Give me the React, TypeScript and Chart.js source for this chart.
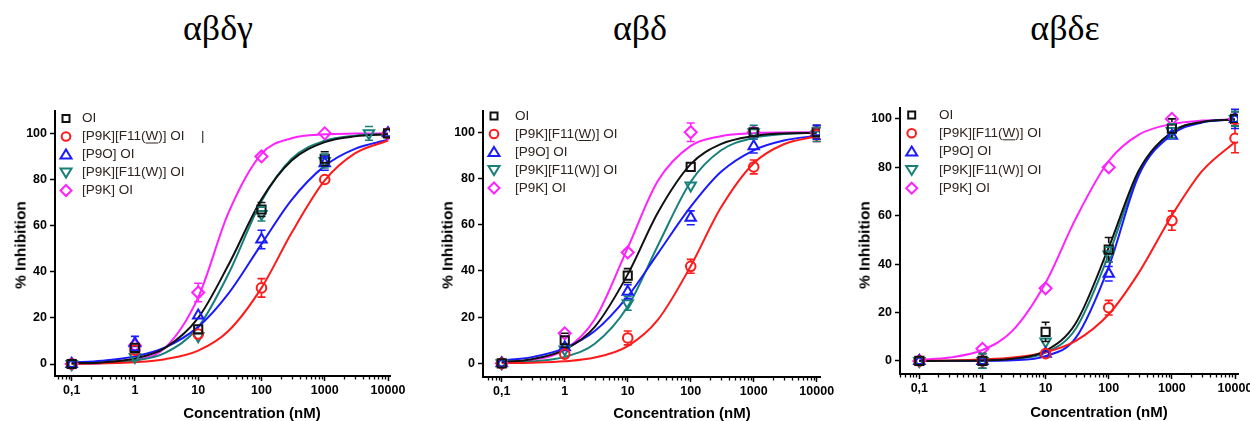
import React, { useEffect, useRef } from "react";
import { Chart, registerables } from "chart.js";

Chart.register(...registerables);
Chart.defaults.font.family = "'Liberation Sans', Arial, sans-serif";

// ---------- shared labels / ticks ----------
const panelTitles = ["αβδγ", "αβδ", "αβδε"];
const seriesLabels = ["OI", "[P9K][F11(W)] OI", "[P9O] OI", "[P9K][F11(W)] OI", "[P9K] OI"];
const underlinedLabelIndex = 1;
const seriesColors = ["#111111", "#ff1a1a", "#1a1aff", "#17807a", "#ff22ff"];
const seriesMarkers = ["square", "circle", "triangle", "triangleDown", "diamond"];
const xTickValues = [0.1, 1, 10, 100, 1000, 10000];
const xTickLabels = ["0,1", "1", "10", "100", "1000", "10000"];
const yTickValues = [0, 20, 40, 60, 80, 100];
const yTickLabels = ["0", "20", "40", "60", "80", "100"];
const xAxisTitle = "Concentration (nM)";
const yAxisTitle = "% Inhibition";

// ---------- concentrations ----------
const doseX = [0.1, 1, 10, 100, 1000, 10000];
const doseX_abdg_teal = [0.1, 1, 10, 100, 1000, 5000];
const fitX = [0.1, 0.3, 1, 3, 10, 30, 100, 300, 1000, 3000, 10000];

// ---------- αβδγ ----------
const abdg_OI = [0, 7, 15, 67, 89, 100];
const abdg_OI_err = [1, 2, 2, 3, 3, 2];
const abdg_OI_fit = [0.3, 0.7, 2.4, 7.0, 20.0, 42.9, 71.4, 88.2, 96.2, 98.7, 99.6];
const abdg_P9KF11W = [0, 6, 13, 33, 80, 100];
const abdg_P9KF11W_err = [1, 2, 2, 4, 2, 2];
const abdg_P9KF11W_fit = [0.1, 0.3, 0.8, 2.1, 5.8, 14.3, 33.0, 56.9, 79.6, 91.3, 96.9];
const abdg_P9O = [0, 9, 21, 54, 87, 100];
const abdg_P9O_err = [1, 3, 2, 4, 3, 2];
const abdg_P9O_fit = [0.6, 1.4, 3.3, 7.2, 16.1, 30.5, 52.0, 71.2, 85.9, 93.3, 97.2];
const abdg_P9KF11Wb = [0, 3, 12, 65, 88, 100];
const abdg_P9KF11Wb_err = [1, 2, 2, 3, 3, 3];
const abdg_P9KF11Wb_fit = [0.1, 0.4, 1.5, 4.8, 16.0, 39.0, 70.6, 89.0, 96.8, 99.0, 99.7];
const abdg_P9K = [0, 8, 31, 90, 100, 100];
const abdg_P9K_err = [1, 2, 4, 2, 1, 1];
const abdg_P9K_fit = [0.1, 0.3, 1.6, 7.0, 28.9, 65.5, 91.1, 97.9, 99.6, 99.9, 100];

// ---------- αβδ ----------
const abd_OI = [0, 10, 38, 85, 100, 100];
const abd_OI_err = [1, 3, 3, 2, 2, 3];
const abd_OI_fit = [0.6, 1.8, 5.9, 15.8, 38.5, 65.2, 86.2, 94.9, 98.4, 99.5, 99.8];
const abd_P9KF11W = [0, 4, 11, 42, 85, 99];
const abd_P9KF11W_err = [1, 2, 3, 3, 3, 3];
const abd_P9KF11W_fit = [0.1, 0.3, 0.9, 2.5, 7.5, 18.8, 42.1, 67.3, 86.6, 94.8, 98.3];
const abd_P9O = [0, 7, 31, 63, 94, 100];
const abd_P9O_err = [1, 2, 3, 3, 3, 3];
const abd_P9O_fit = [1.2, 2.7, 6.6, 14.0, 29.0, 47.5, 67.8, 82.8, 92.2, 96.4, 98.5];
const abd_P9KF11Wb = [0, 6, 26, 77, 100, 99];
const abd_P9KF11Wb_err = [1, 2, 3, 2, 3, 3];
const abd_P9KF11Wb_fit = [0.3, 0.8, 2.8, 8.5, 24.6, 50.9, 78.6, 92.1, 97.6, 99.2, 99.8];
const abd_P9K = [0, 13, 48, 100, 100, 100];
const abd_P9K_err = [1, 2, 2, 4, 2, 2];
const abd_P9K_fit = [0.4, 1.5, 5.9, 19.1, 50.0, 78.9, 94.1, 98.3, 99.6, 99.9, 100];

// ---------- αβδε ----------
const abde_OI = [0, 0, 12, 46, 96, 100];
const abde_OI_err = [1, 3, 4, 5, 4, 3];
const abde_OI_fit = [0, 0.05, 0.2, 0.9, 4.2, 15.6, 46.9, 78.7, 94.6, 98.7, 99.7];
const abde_P9KF11W = [0, 0, 3, 22, 58, 92];
const abde_P9KF11W_err = [1, 1, 1, 3, 4, 6];
const abde_P9KF11W_fit = [0.1, 0.2, 0.6, 1.4, 3.6, 8.3, 19.3, 36.5, 60.1, 78.4, 90.5];
const abde_P9O = [0, 0, 3, 36, 93, 100];
const abde_P9O_err = [1, 2, 1, 3, 2, 4];
const abde_P9O_fit = [0, 0, 0.1, 0.3, 2.0, 9.5, 38.9, 76.8, 93.5, 98.5, 99.8];
const abde_P9KF11Wb = [0, 0, 8, 44, 95, 100];
const abde_P9KF11Wb_err = [1, 3, 2, 3, 3, 3];
const abde_P9KF11Wb_fit = [0, 0, 0.2, 0.7, 3.4, 13.3, 43.9, 77.5, 94.6, 98.7, 99.7];
const abde_P9K = [0, 5, 30, 80, 100, 100];
const abde_P9K_err = [1, 1, 1, 1, 2, 1];
const abde_P9K_fit = [0.5, 1.4, 4.5, 12.5, 32.3, 58.8, 82.6, 93.5, 97.9, 99.3, 99.8];

type Series = { x: number[]; y: number[]; err: number[]; fit: number[] };
type PanelCfg = {
  title: string;
  titleX: number;
  canvasLeft: number;
  canvasWidth: number;
  yAxisWidth: number;
  padTop: number;
  padRight: number;
  xAxisHeight: number;
  xMin: number;
  xMax: number;
  yMin: number;
  yMax: number;
  series: Series[];
  legend: { markerDX: number; textDX: number; firstDY: number; gap: number; extra?: { text: string; dx: number; row: number } };
  yTitleX: number;
  yTitleY: number;
  xTitleX: number;
  xTitleY: number;
};

const CANVAS_TOP = 90;
const CANVAS_H = 331;

const panels: PanelCfg[] = [
  {
    title: panelTitles[0], titleX: 218,
    canvasLeft: 0, canvasWidth: 420, yAxisWidth: 55, padTop: 21, padRight: 30, xAxisHeight: 45,
    xMin: 0.0545, xMax: 10755, yMin: -5.2, yMax: 109.7,
    series: [
      { x: doseX, y: abdg_OI, err: abdg_OI_err, fit: abdg_OI_fit },
      { x: doseX, y: abdg_P9KF11W, err: abdg_P9KF11W_err, fit: abdg_P9KF11W_fit },
      { x: doseX, y: abdg_P9O, err: abdg_P9O_err, fit: abdg_P9O_fit },
      { x: doseX_abdg_teal, y: abdg_P9KF11Wb, err: abdg_P9KF11Wb_err, fit: abdg_P9KF11Wb_fit },
      { x: doseX, y: abdg_P9K, err: abdg_P9K_err, fit: abdg_P9K_fit },
    ],
    legend: { markerDX: 11, textDX: 27, firstDY: 7.5, gap: 18, extra: { text: "|", dx: 146, row: 1 } },
    yTitleX: 20, yTitleY: 245, xTitleX: 252, xTitleY: 411.5,
  },
  {
    title: panelTitles[1], titleX: 640,
    canvasLeft: 425, canvasWidth: 415, yAxisWidth: 58, padTop: 21, padRight: 20, xAxisHeight: 44,
    xMin: 0.0504, xMax: 11280, yMin: -5.9, yMax: 109.2,
    series: [
      { x: doseX, y: abd_OI, err: abd_OI_err, fit: abd_OI_fit },
      { x: doseX, y: abd_P9KF11W, err: abd_P9KF11W_err, fit: abd_P9KF11W_fit },
      { x: doseX, y: abd_P9O, err: abd_P9O_err, fit: abd_P9O_fit },
      { x: doseX, y: abd_P9KF11Wb, err: abd_P9KF11Wb_err, fit: abd_P9KF11Wb_fit },
      { x: doseX, y: abd_P9K, err: abd_P9K_err, fit: abd_P9K_fit },
    ],
    legend: { markerDX: 11, textDX: 32, firstDY: 5, gap: 18 },
    yTitleX: 447, yTitleY: 245, xTitleX: 682, xTitleY: 411.5,
  },
  {
    title: panelTitles[2], titleX: 1065,
    canvasLeft: 845, canvasWidth: 420, yAxisWidth: 55, padTop: 18, padRight: 27, xAxisHeight: 47,
    xMin: 0.0494, xMax: 11155, yMin: -5.4, yMax: 104.5,
    series: [
      { x: doseX, y: abde_OI, err: abde_OI_err, fit: abde_OI_fit },
      { x: doseX, y: abde_P9KF11W, err: abde_P9KF11W_err, fit: abde_P9KF11W_fit },
      { x: doseX, y: abde_P9O, err: abde_P9O_err, fit: abde_P9O_fit },
      { x: doseX, y: abde_P9KF11Wb, err: abde_P9KF11Wb_err, fit: abde_P9KF11Wb_fit },
      { x: doseX, y: abde_P9K, err: abde_P9K_err, fit: abde_P9K_fit },
    ],
    legend: { markerDX: 11.7, textDX: 39, firstDY: 7, gap: 18.3 },
    yTitleX: 864, yTitleY: 245, xTitleX: 1099, xTitleY: 410.5,
  },
];

const pointStyleOf: Record<string, { style: any; rotation: number; radius: number }> = {
  square: { style: "rect", rotation: 0, radius: 5.8 },
  circle: { style: "circle", rotation: 0, radius: 4.8 },
  triangle: { style: "triangle", rotation: 0, radius: 6 },
  triangleDown: { style: "triangle", rotation: 180, radius: 6 },
  diamond: { style: "rectRot", rotation: 0, radius: 6 },
};

function drawLegendMarker(ctx: CanvasRenderingContext2D, kind: string, x: number, y: number, color: string) {
  ctx.save();
  ctx.strokeStyle = color;
  ctx.lineWidth = 2;
  ctx.beginPath();
  if (kind === "square") {
    ctx.rect(x - 3.5, y - 3.5, 7, 7);
  } else if (kind === "circle") {
    ctx.arc(x, y, 4.3, 0, Math.PI * 2);
  } else if (kind === "triangle") {
    ctx.moveTo(x, y - 5);
    ctx.lineTo(x + 5.5, y + 4);
    ctx.lineTo(x - 5.5, y + 4);
    ctx.closePath();
  } else if (kind === "triangleDown") {
    ctx.moveTo(x - 5.5, y - 4);
    ctx.lineTo(x + 5.5, y - 4);
    ctx.lineTo(x, y + 5);
    ctx.closePath();
  } else {
    ctx.moveTo(x, y - 5.5);
    ctx.lineTo(x + 5.5, y);
    ctx.lineTo(x, y + 5.5);
    ctx.lineTo(x - 5.5, y);
    ctx.closePath();
  }
  ctx.stroke();
  ctx.restore();
}

function makeOverlayPlugin(cfg: PanelCfg) {
  return {
    id: "overlay",
    afterDatasetsDraw(chart: any) {
      const ctx: CanvasRenderingContext2D = chart.ctx;
      const xs = chart.scales.x;
      const ys = chart.scales.y;
      chart.data.datasets.forEach((ds: any) => {
        if (!ds.errors) return;
        ctx.save();
        ctx.strokeStyle = ds.borderColor;
        ctx.lineWidth = 1.6;
        ds.data.forEach((p: any, j: number) => {
          const e = ds.errors[j];
          if (!e) return;
          const px = xs.getPixelForValue(p.x);
          const py = ys.getPixelForValue(p.y);
          const top = ys.getPixelForValue(p.y + e);
          const bot = ys.getPixelForValue(p.y - e);
          const r = ds.pointRadius + 0.5;
          ctx.beginPath();
          if (py - top > r) {
            ctx.moveTo(px, py - r);
            ctx.lineTo(px, top);
            ctx.moveTo(px - 4, top);
            ctx.lineTo(px + 4, top);
          }
          if (bot - py > r) {
            ctx.moveTo(px, py + r);
            ctx.lineTo(px, bot);
            ctx.moveTo(px - 4, bot);
            ctx.lineTo(px + 4, bot);
          }
          ctx.stroke();
        });
        ctx.restore();
      });
    },
    afterDraw(chart: any) {
      const ctx: CanvasRenderingContext2D = chart.ctx;
      const xs = chart.scales.x;
      const area = chart.chartArea;
      // minor log ticks
      ctx.save();
      ctx.strokeStyle = "#000";
      ctx.lineWidth = 1.3;
      ctx.beginPath();
      for (let e = -2; e <= 4; e++) {
        for (let m = 2; m <= 9; m++) {
          const v = m * Math.pow(10, e);
          if (v <= xs.min || v >= xs.max) continue;
          const px = Math.round(xs.getPixelForValue(v)) + 0.5;
          ctx.moveTo(px, area.bottom);
          ctx.lineTo(px, area.bottom + 3.5);
        }
      }
      ctx.stroke();
      ctx.restore();

      // legend
      const lg = cfg.legend;
      ctx.save();
      ctx.font = "13.5px 'Liberation Sans', Arial, sans-serif";
      ctx.textBaseline = "middle";
      ctx.textAlign = "left";
      seriesLabels.forEach((label, i) => {
        const y = area.top + lg.firstDY + i * lg.gap;
        drawLegendMarker(ctx, seriesMarkers[i], area.left + lg.markerDX, y, seriesColors[i]);
        ctx.fillStyle = "#2e2420";
        const tx = area.left + lg.textDX;
        ctx.fillText(label, tx, y);
        if (i === underlinedLabelIndex) {
          const pre = label.slice(0, label.indexOf("W"));
          const w0 = ctx.measureText(pre).width;
          const w1 = ctx.measureText("W").width;
          ctx.strokeStyle = "#2e2420";
          ctx.lineWidth = 1;
          ctx.beginPath();
          ctx.moveTo(tx + w0, y + 6.5);
          ctx.lineTo(tx + w0 + w1, y + 6.5);
          ctx.stroke();
        }
      });
      if (lg.extra) {
        ctx.fillStyle = "#2e2420";
        ctx.fillText(lg.extra.text, area.left + lg.extra.dx, area.top + lg.firstDY + lg.extra.row * lg.gap);
      }
      ctx.restore();
    },
  };
}

function Panel({ cfg }: { cfg: PanelCfg }) {
  const ref = useRef<HTMLCanvasElement>(null);
  useEffect(() => {
    const canvas = ref.current;
    if (!canvas) return;
    const pointSets = cfg.series.map((s, i) => {
      const ps = pointStyleOf[seriesMarkers[i]];
      return {
        type: "scatter",
        label: seriesLabels[i],
        data: s.x.map((x, j) => ({ x, y: s.y[j] })),
        errors: s.err,
        showLine: false,
        pointStyle: ps.style,
        rotation: ps.rotation,
        pointRadius: ps.radius,
        borderColor: seriesColors[i],
        backgroundColor: "rgba(0,0,0,0)",
        pointBorderWidth: 2,
        borderWidth: 2,
      } as any;
    });
    const fitSets = cfg.series.map((s, i) => ({
      type: "scatter",
      label: seriesLabels[i] + " fit",
      data: fitX.map((x, j) => ({ x, y: s.fit[j] })),
      showLine: true,
      pointRadius: 0,
      borderColor: seriesColors[i],
      backgroundColor: "rgba(0,0,0,0)",
      borderWidth: 2,
      cubicInterpolationMode: "monotone",
      fill: false,
    } as any));
    const tickFont = { family: "'Liberation Sans', Arial, sans-serif", size: 12.5, weight: "bold" as const };
    const chart = new Chart(canvas, {
      type: "scatter",
      data: { datasets: [...pointSets, ...fitSets] },
      options: {
        responsive: false,
        animation: false,
        events: [],
        devicePixelRatio: 1,
        layout: { padding: { left: 0, top: cfg.padTop, right: cfg.padRight, bottom: 0 } },
        plugins: { legend: { display: false }, tooltip: { enabled: false }, title: { display: false } },
        scales: {
          x: {
            type: "logarithmic",
            min: cfg.xMin,
            max: cfg.xMax,
            afterBuildTicks: (s: any) => {
              s.ticks = xTickValues.map((v) => ({ value: v }));
            },
            afterFit: (s: any) => {
              s.height = cfg.xAxisHeight;
            },
            ticks: {
              autoSkip: false,
              maxRotation: 0,
              minRotation: 0,
              padding: 2,
              color: "#000",
              font: tickFont,
              callback: (_v: any, i: number) => xTickLabels[i],
            },
            grid: { drawOnChartArea: false, drawTicks: true, tickLength: 5, tickColor: "#000", tickWidth: 1.5 },
            border: { display: true, color: "#000", width: 2 },
          },
          y: {
            type: "linear",
            min: cfg.yMin,
            max: cfg.yMax,
            afterBuildTicks: (s: any) => {
              s.ticks = yTickValues.map((v) => ({ value: v }));
            },
            afterFit: (s: any) => {
              s.width = cfg.yAxisWidth;
            },
            ticks: {
              padding: 3,
              color: "#000",
              font: tickFont,
              callback: (_v: any, i: number) => yTickLabels[i],
            },
            grid: { drawOnChartArea: false, drawTicks: true, tickLength: 5, tickColor: "#000", tickWidth: 1.5 },
            border: { display: true, color: "#000", width: 2 },
          },
        },
      } as any,
      plugins: [makeOverlayPlugin(cfg)],
    });
    return () => chart.destroy();
  }, [cfg]);
  return (
    <canvas
      ref={ref}
      width={cfg.canvasWidth}
      height={CANVAS_H}
      style={{ position: "absolute", left: cfg.canvasLeft, top: CANVAS_TOP, width: cfg.canvasWidth, height: CANVAS_H, display: "block" }}
    />
  );
}

const titleStyle: React.CSSProperties = {
  position: "absolute",
  top: 10,
  transform: "translateX(-50%)",
  fontFamily: "'Liberation Serif', 'Times New Roman', serif",
  fontSize: 36,
  lineHeight: "36px",
  color: "#000",
  whiteSpace: "nowrap",
};

const axisTitleStyle: React.CSSProperties = {
  position: "absolute",
  fontFamily: "'Liberation Sans', Arial, sans-serif",
  fontWeight: "bold",
  fontSize: 15,
  lineHeight: "17px",
  color: "#000",
  whiteSpace: "nowrap",
};

export default function App() {
  return (
    <div style={{ position: "absolute", left: 0, top: 0, width: 1250, height: 421, overflow: "hidden", background: "#fff" }}>
      {panels.map((p, i) => (
        <React.Fragment key={i}>
          <div style={{ ...titleStyle, left: p.titleX }}>{p.title}</div>
          <Panel cfg={p} />
          <div style={{ ...axisTitleStyle, fontSize: 15.5, left: p.yTitleX, top: p.yTitleY, transform: "translate(-50%,-50%) rotate(-90deg)" }}>{yAxisTitle}</div>
          <div style={{ ...axisTitleStyle, left: p.xTitleX, top: p.xTitleY, transform: "translate(-50%,-50%)" }}>{xAxisTitle}</div>
        </React.Fragment>
      ))}
    </div>
  );
}
